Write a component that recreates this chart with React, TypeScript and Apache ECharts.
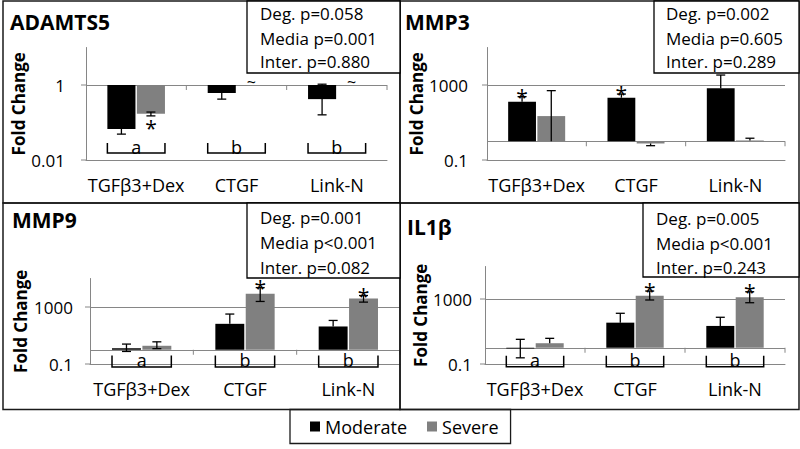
import React, { useEffect, useRef } from 'react';
import * as echarts from 'echarts';

// ---------- data ----------
const categories = ['TGFβ3+Dex', 'CTGF', 'Link-N'];
const groupNames = ['Moderate', 'Severe'];
const groupColors = ['#000000', '#808080'];

// ADAMTS5
const adamts5Stats = ['Deg. p=0.058', 'Media p=0.001', 'Inter. p=0.880'];
const adamts5Moderate = [0.067, 0.61, 0.42];
const adamts5ModLow = [0.049, 0.42, 0.16];
const adamts5ModHigh = [0.067, 0.61, 1.05];
const adamts5Severe = [0.17, 1, 1];
const adamts5SevLow = [0.15, 1, 1];
const adamts5SevHigh = [0.19, 1, 1];
const adamts5ModMarks = ['', '', ''];
const adamts5SevMarks = ['*', '~', '~'];
const adamts5Letters = ['a', 'b', 'b'];
const adamts5Range = [0.01, 10];
const adamts5Ticks = [0.01, 1];
const adamts5TickLabels = ['0.01', '1'];
const adamts5Grid = [1];

// MMP3
const mmp3Stats = ['Deg. p=0.002', 'Media p=0.605', 'Inter. p=0.289'];
const mmp3Moderate = [129, 210, 670];
const mmp3ModLow = [129, 210, 670];
const mmp3ModHigh = [240, 330, 3400];
const mmp3Severe = [22, 0.76, 1.1];
const mmp3SevLow = [1, 0.58, 1.1];
const mmp3SevHigh = [500, 0.76, 1.45];
const mmp3ModMarks = ['*', '*', ''];
const mmp3SevMarks = ['', '', ''];
const mmp3Letters = ['', '', ''];
const mmp3Range = [0.1, 100000];
const mmp3Ticks = [0.1, 1000];
const mmp3TickLabels = ['0.1', '1000'];
const mmp3Grid = [1, 1000];

// MMP9
const mmp9Stats = ['Deg. p=0.001', 'Media p<0.001', 'Inter. p=0.082'];
const mmp9Moderate = [1.3, 66, 43];
const mmp9ModLow = [0.76, 66, 43];
const mmp9ModHigh = [2.5, 320, 114];
const mmp9Severe = [1.9, 8500, 4000];
const mmp9SevLow = [1.2, 2450, 2200];
const mmp9SevHigh = [3.6, 23000, 6400];
const mmp9ModMarks = ['', '', ''];
const mmp9SevMarks = ['', '*', '*'];
const mmp9Letters = ['a', 'b', 'b'];
const mmp9Range = [0.1, 100000];
const mmp9Ticks = [0.1, 1000];
const mmp9TickLabels = ['0.1', '1000'];
const mmp9Grid = [1, 1000];

// IL1β
const il1bStats = ['Deg. p=0.005', 'Media p<0.001', 'Inter. p=0.243'];
const il1bModerate = [0.9, 35, 22];
const il1bModLow = [0.24, 35, 22];
const il1bModHigh = [3.3, 132, 75];
const il1bSevere = [1.9, 1600, 1270];
const il1bSevLow = [1.9, 870, 590];
const il1bSevHigh = [3.8, 3100, 2800];
const il1bModMarks = ['', '', ''];
const il1bSevMarks = ['', '*', '*'];
const il1bLetters = ['a', 'b', 'b'];
const il1bRange = [0.1, 100000];
const il1bTicks = [0.1, 1000];
const il1bTickLabels = ['0.1', '1000'];
const il1bGrid = [1, 1000];

const panelData = [
  { title: 'ADAMTS5', stats: adamts5Stats, mod: adamts5Moderate, modLow: adamts5ModLow, modHigh: adamts5ModHigh, sev: adamts5Severe, sevLow: adamts5SevLow, sevHigh: adamts5SevHigh, modMarks: adamts5ModMarks, sevMarks: adamts5SevMarks, letters: adamts5Letters, range: adamts5Range, ticks: adamts5Ticks, tickLabels: adamts5TickLabels, gridValues: adamts5Grid },
  { title: 'MMP3', stats: mmp3Stats, mod: mmp3Moderate, modLow: mmp3ModLow, modHigh: mmp3ModHigh, sev: mmp3Severe, sevLow: mmp3SevLow, sevHigh: mmp3SevHigh, modMarks: mmp3ModMarks, sevMarks: mmp3SevMarks, letters: mmp3Letters, range: mmp3Range, ticks: mmp3Ticks, tickLabels: mmp3TickLabels, gridValues: mmp3Grid },
  { title: 'MMP9', stats: mmp9Stats, mod: mmp9Moderate, modLow: mmp9ModLow, modHigh: mmp9ModHigh, sev: mmp9Severe, sevLow: mmp9SevLow, sevHigh: mmp9SevHigh, modMarks: mmp9ModMarks, sevMarks: mmp9SevMarks, letters: mmp9Letters, range: mmp9Range, ticks: mmp9Ticks, tickLabels: mmp9TickLabels, gridValues: mmp9Grid },
  { title: 'IL1β', stats: il1bStats, mod: il1bModerate, modLow: il1bModLow, modHigh: il1bModHigh, sev: il1bSevere, sevLow: il1bSevLow, sevHigh: il1bSevHigh, modMarks: il1bModMarks, sevMarks: il1bSevMarks, letters: il1bLetters, range: il1bRange, ticks: il1bTicks, tickLabels: il1bTickLabels, gridValues: il1bGrid },
];

// ---------- layout / style ----------
const FONT = '"Open Sans", "Noto Sans", sans-serif';
const AXIS_GREY = '#868686';
const BAR_FRAC = 0.28;
const BAR_GAP = 0.05;

const layouts = [
  { grid: { left: 86, top: 47.5, width: 301, height: 112.5 }, nameGap: 57, labelMargin: 21, title: [10, 22], box: [247, 1, 153, 72], statsX: 260, statsY: [13, 38, 61], bracketOff: -7, bracketH: 10 },
  { grid: { left: 487, top: 47.5, width: 298, height: 112.5 }, nameGap: 58, labelMargin: 19, title: [405, 22], box: [654, 1, 145, 72], statsX: 666, statsY: [13, 38, 61], bracketOff: 0, bracketH: 0 },
  { grid: { left: 90, top: 278.5, width: 310, height: 85.5 }, nameGap: 61, labelMargin: 17, title: [12, 220], box: [247, 203, 153, 75], statsX: 260, statsY: [217, 242, 267], bracketOff: 3, bracketH: 11.5 },
  { grid: { left: 485, top: 266.5, width: 300, height: 97.5 }, nameGap: 56, labelMargin: 13, title: [407, 227], box: [643, 203, 156, 74], statsX: 656, statsY: [218, 243, 267], bracketOff: 2.7, bracketH: 11 },
];

function buildOption() {
  const grids: any[] = [];
  const xAxes: any[] = [];
  const yAxes: any[] = [];
  const series: any[] = [];
  const graphics: any[] = [];

  // panel borders
  const borders = [
    [3, 1, 397, 202],
    [400, 1, 399, 202],
    [3, 203, 397, 206.5],
    [400, 203, 399, 206.5],
  ];
  borders.forEach((b) => {
    graphics.push({ type: 'rect', shape: { x: b[0], y: b[1], width: b[2], height: b[3] }, style: { fill: 'none', stroke: '#1a1a1a', lineWidth: 1.5 }, z: 10 });
  });

  panelData.forEach((p, i) => {
    const L = layouts[i];
    grids.push({ ...L.grid, containLabel: false });
    xAxes.push({
      type: 'category',
      gridIndex: i,
      data: categories,
      axisLine: { show: true, onZero: false, lineStyle: { color: AXIS_GREY, width: 1 } },
      axisTick: { show: false },
      axisLabel: { interval: 0, fontSize: 18, color: '#000', fontFamily: FONT, margin: 16 },
      splitLine: { show: false },
    });
    yAxes.push({
      type: 'log',
      logBase: 10,
      gridIndex: i,
      min: p.range[0],
      max: p.range[1],
      axisLine: { show: true, lineStyle: { color: AXIS_GREY, width: 1 } },
      axisTick: { show: false },
      splitLine: { show: false },
      axisLabel: {
        fontSize: 17,
        color: '#000',
        fontFamily: FONT,
        margin: L.labelMargin,
        formatter: (v: number) => {
          const k = p.ticks.findIndex((t) => Math.abs(v - t) / t < 1e-6);
          return k >= 0 ? p.tickLabels[k] : '';
        },
      },
      name: 'Fold Change',
      nameLocation: 'middle',
      nameRotate: 90,
      nameGap: L.nameGap,
      nameTextStyle: { fontSize: 17, fontWeight: 'bold', color: '#000', fontFamily: FONT },
    });

    const vals = [p.mod, p.sev];
    vals.forEach((arr, s) => {
      series.push({
        type: 'bar',
        name: groupNames[s],
        xAxisIndex: i,
        yAxisIndex: i,
        data: arr,
        barWidth: (BAR_FRAC * 100) + '%',
        barGap: (BAR_GAP * 100) + '%',
        itemStyle: { color: groupColors[s] },
        z: 3,
        markLine: s === 0 ? {
          silent: true,
          symbol: ['none', 'none'],
          label: { show: false },
          lineStyle: { color: AXIS_GREY, type: 'solid', width: 1 },
          z: 1,
          data: p.gridValues.map((g) => ({ yAxis: g })),
        } : undefined,
      });
    });

    // error bars + significance marks
    const errData: any[] = [];
    const lows = [p.modLow, p.sevLow];
    const highs = [p.modHigh, p.sevHigh];
    const marks = [p.modMarks, p.sevMarks];
    for (let s = 0; s < 2; s++) {
      for (let c = 0; c < categories.length; c++) {
        errData.push([c, s, vals[s][c], lows[s][c], highs[s][c]]);
      }
    }
    series.push({
      type: 'custom',
      xAxisIndex: i,
      yAxisIndex: i,
      z: 5,
      clip: false,
      silent: true,
      encode: { x: 0, y: 2 },
      data: errData,
      renderItem: (params: any, api: any) => {
        const c = api.value(0);
        const s = api.value(1);
        const v = api.value(2);
        const lo = api.value(3);
        const hi = api.value(4);
        const band = api.coord([1, 1])[0] - api.coord([0, 1])[0];
        const cx = api.coord([c, 1])[0] + (s === 0 ? -1 : 1) * band * BAR_FRAC * (0.5 + BAR_GAP / 2);
        const yv = api.coord([c, v])[1];
        const ylo = api.coord([c, lo])[1];
        const yhi = api.coord([c, hi])[1];
        const ls = { stroke: '#000', lineWidth: 1.3 };
        const children: any[] = [];
        const capW = 4.5;
        if (hi !== lo) children.push({ type: 'line', shape: { x1: cx, y1: ylo, x2: cx, y2: yhi }, style: ls });
        if (hi > v && hi !== 1) children.push({ type: 'line', shape: { x1: cx - capW, y1: yhi, x2: cx + capW, y2: yhi }, style: ls });
        if (lo < v && lo !== 1) children.push({ type: 'line', shape: { x1: cx - capW, y1: ylo, x2: cx + capW, y2: ylo }, style: ls });
        const m = marks[s][c];
        if (m === '*') {
          const y = v >= 1 ? yhi : ylo + 12;
          children.push({ type: 'text', x: cx, y, style: { text: '*', font: `21px ${FONT}`, fill: '#000', align: 'center', verticalAlign: 'middle', lineHeight: 12 } });
        } else if (m === '~') {
          children.push({ type: 'text', x: cx, y: yv - 3.5, style: { text: '~', font: `16px ${FONT}`, fill: '#000', align: 'center', verticalAlign: 'middle', lineHeight: 8 } });
        }
        return { type: 'group', children };
      },
    });

    // axis decorations: category ticks at value 1, y ticks, letter brackets
    series.push({
      type: 'custom',
      xAxisIndex: i,
      yAxisIndex: i,
      z: 6,
      clip: false,
      silent: true,
      encode: { x: 0, y: 1 },
      data: categories.map((_, c) => [c, 1]),
      renderItem: (params: any, api: any) => {
        const c = api.value(0);
        const band = api.coord([1, 1])[0] - api.coord([0, 1])[0];
        const cx = api.coord([c, 1])[0];
        const y1 = api.coord([c, 1])[1];
        const yMin = api.coord([c, p.range[0]])[1];
        const tickStyle = { stroke: AXIS_GREY, lineWidth: 1 };
        const children: any[] = [];
        children.push({ type: 'line', shape: { x1: cx + band / 2, y1: y1, x2: cx + band / 2, y2: y1 + 5 }, style: tickStyle });
        if (c === 0) {
          p.ticks.forEach((t) => {
            const yt = api.coord([c, t])[1];
            children.push({ type: 'line', shape: { x1: cx - band / 2 - 5, y1: yt, x2: cx - band / 2, y2: yt }, style: tickStyle });
          });
        }
        const letter = p.letters[c];
        if (letter) {
          const half = band * BAR_FRAC * (1 + BAR_GAP / 2);
          const yb = yMin + L.bracketOff;
          const yt = yb - L.bracketH;
          children.push({
            type: 'polyline',
            shape: { points: [[cx - half, yt], [cx - half, yb], [cx + half, yb], [cx + half, yt]] },
            style: { stroke: '#000', lineWidth: 1.5, fill: 'none' },
          });
          children.push({ type: 'text', x: cx, y: yb - L.bracketH / 2 - 1, style: { text: letter, font: `18px ${FONT}`, fill: '#000', align: 'center', verticalAlign: 'middle', lineHeight: 12 } });
        }
        return { type: 'group', children };
      },
    });

    // title
    graphics.push({ type: 'text', x: L.title[0], y: L.title[1], style: { text: p.title, font: `bold 21px ${FONT}`, fill: '#000', verticalAlign: 'middle' }, z: 10 });
    // stats box
    graphics.push({ type: 'rect', shape: { x: L.box[0], y: L.box[1], width: L.box[2], height: L.box[3] }, style: { fill: '#fff', stroke: '#000', lineWidth: 1.3 }, z: 11 });
    p.stats.forEach((t, k) => {
      graphics.push({ type: 'text', x: L.statsX, y: L.statsY[k], style: { text: t, font: `17px ${FONT}`, fill: '#000', verticalAlign: 'middle' }, z: 12 });
    });
  });

  return {
    animation: false,
    backgroundColor: '#ffffff',
    textStyle: { fontFamily: FONT },
    grid: grids,
    xAxis: xAxes,
    yAxis: yAxes,
    series,
    legend: {
      data: groupNames,
      left: 290,
      top: 409.5,
      orient: 'horizontal',
      icon: 'rect',
      itemWidth: 10,
      itemHeight: 10,
      itemGap: 20,
      padding: [8, 12, 8, 20],
      borderColor: '#1a1a1a',
      borderWidth: 1.3,
      selectedMode: false,
      textStyle: { fontSize: 18, color: '#000', fontFamily: FONT },
    },
    graphic: graphics,
  };
}

export default function App() {
  const ref = useRef<HTMLDivElement>(null);
  useEffect(() => {
    if (!ref.current) return;
    const chart = echarts.init(ref.current, null, { renderer: 'svg' });
    chart.setOption(buildOption() as any);
    return () => chart.dispose();
  }, []);
  return <div ref={ref} style={{ position: 'fixed', left: 0, top: 0, width: 800, height: 449, background: '#fff' }} />;
}
